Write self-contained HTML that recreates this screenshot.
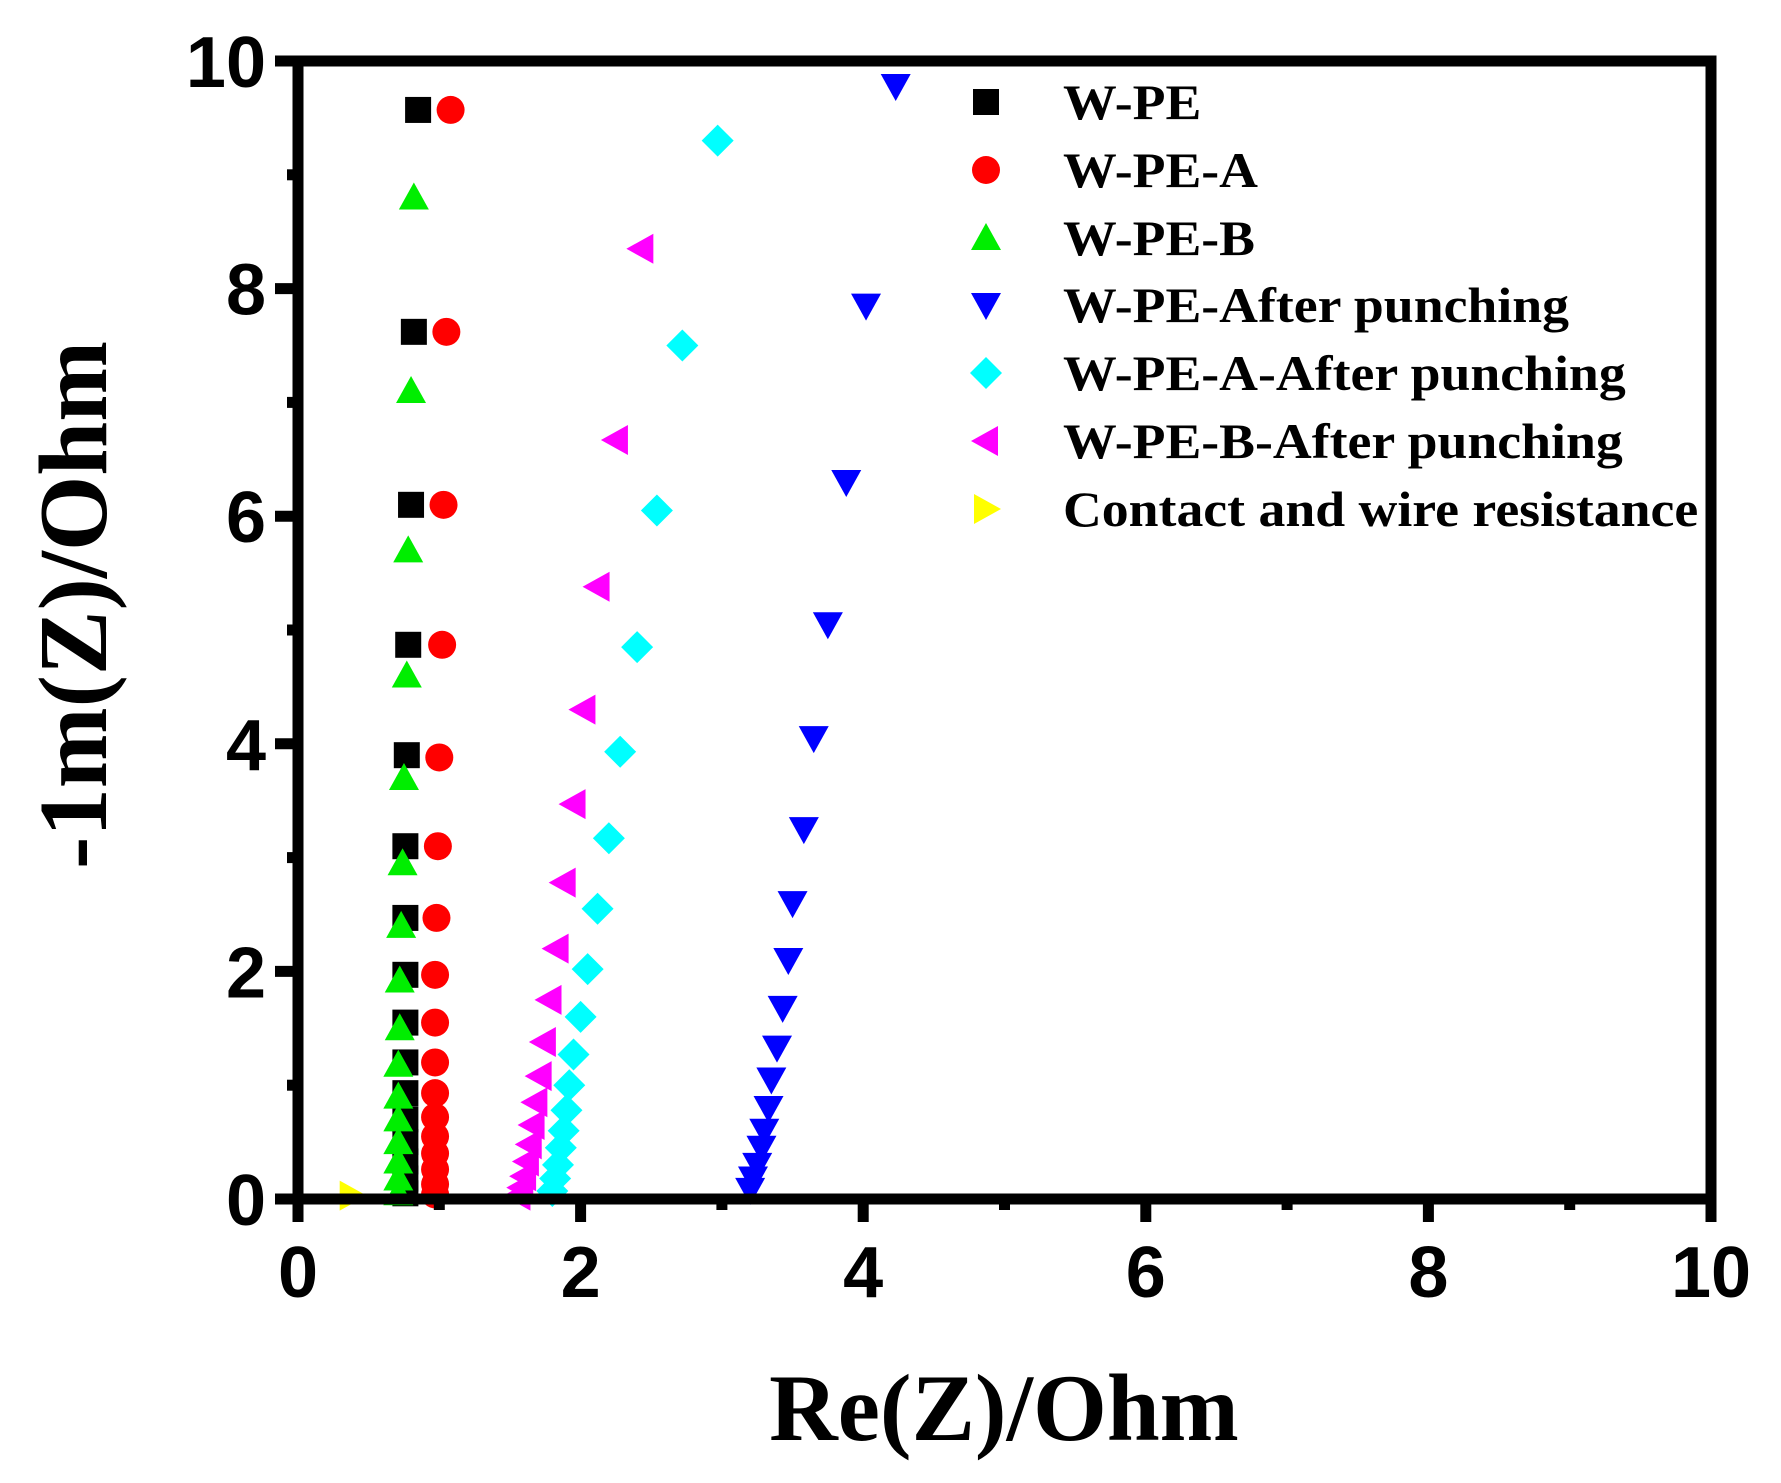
<!DOCTYPE html>
<html><head><meta charset="utf-8"><style>
html,body{margin:0;padding:0;background:#fff;}
svg{display:block;}
</style></head><body>
<svg id="s" width="1781" height="1483" viewBox="0 0 1781 1483" xmlns="http://www.w3.org/2000/svg">
<defs>
<rect id="sq" x="-13" y="-13" width="26" height="26" fill="#000"/>
<circle id="ci" r="14" fill="#ff0000"/>
<polygon id="tu" points="0,-15 15,12 -15,12" fill="#00ee00"/>
<polygon id="td" points="0,15 15,-12 -15,-12" fill="#0000ff"/>
<polygon id="di" points="0,-16 16,0 0,16 -16,0" fill="#00ffff"/>
<polygon id="tl" points="-15,0 12,-15 12,15" fill="#ff00ff"/>
<polygon id="tr" points="15,0 -12,-15 -12,15" fill="#ffff00"/>
</defs>
<g id="pts"></g>
<g stroke="#000" stroke-width="11" fill="none">
<rect x="298" y="61" width="1413" height="1138"/>
</g>
<g id="ticks" stroke="#000" stroke-width="11"></g>
<g font-family="Liberation Sans, Arial, sans-serif" font-weight="bold" font-size="72" fill="#000" id="lbl"></g>
<g transform="translate(1063,0) scale(1.075,1)" font-family="Liberation Serif, Times New Roman, serif" font-weight="bold" font-size="50" fill="#000">
<text x="0" y="119">W-PE</text>
<text x="0" y="187">W-PE-A</text>
<text x="0" y="255">W-PE-B</text>
<text x="0" y="322">W-PE-After punching</text>
<text x="0" y="390">W-PE-A-After punching</text>
<text x="0" y="458">W-PE-B-After punching</text>
<text x="0" y="526">Contact and wire resistance</text>
</g>
<use href="#sq" x="986" y="102"/>
<use href="#ci" x="986" y="170"/>
<use href="#tu" x="986" y="238"/>
<use href="#td" x="986" y="305"/>
<use href="#di" x="986" y="373"/>
<use href="#tl" x="986" y="441"/>
<use href="#tr" x="986" y="509"/>
<text x="1004" y="1440" text-anchor="middle" font-family="Liberation Serif, Times New Roman, serif" font-weight="bold" font-size="95">Re(Z)/Ohm</text>
<text transform="translate(106,605) rotate(-90)" text-anchor="middle" font-family="Liberation Serif, Times New Roman, serif" font-weight="bold" font-size="97">-1m(Z)/Ohm</text>
</svg>
<script>
var NS="http://www.w3.org/2000/svg";
function X(v){return 298+v*141.3;}
function Y(v){return 1199-v*113.8;}
var series={
 sq:[[0.85,9.57],[0.82,7.62],[0.8,6.1],[0.78,4.87],[0.77,3.9],[0.76,3.1],[0.76,2.47],[0.76,1.97],[0.76,1.55],[0.76,1.2],[0.76,0.93],[0.76,0.7],[0.76,0.5],[0.76,0.33],[0.76,0.18],[0.76,0.05]],
 tu:[[0.82,8.8],[0.8,7.1],[0.78,5.7],[0.77,4.6],[0.75,3.7],[0.74,2.95],[0.73,2.4],[0.72,1.92],[0.72,1.5],[0.71,1.18],[0.71,0.9],[0.71,0.7],[0.71,0.5],[0.71,0.33],[0.71,0.18],[0.71,0.05]],
 ci:[[1.08,9.57],[1.05,7.62],[1.03,6.1],[1.02,4.87],[1.0,3.88],[0.99,3.1],[0.98,2.47],[0.97,1.97],[0.97,1.55],[0.97,1.2],[0.97,0.93],[0.97,0.72],[0.97,0.55],[0.97,0.4],[0.97,0.26],[0.97,0.13],[0.97,0.04]],
 td:[[4.23,9.78],[4.02,7.85],[3.88,6.3],[3.75,5.05],[3.65,4.05],[3.58,3.25],[3.5,2.6],[3.47,2.1],[3.43,1.68],[3.39,1.33],[3.35,1.05],[3.33,0.8],[3.3,0.6],[3.28,0.45],[3.25,0.3],[3.22,0.18],[3.2,0.08]],
 di:[[2.97,9.3],[2.72,7.5],[2.54,6.05],[2.4,4.85],[2.28,3.93],[2.2,3.17],[2.12,2.55],[2.05,2.02],[2.0,1.6],[1.95,1.27],[1.92,1.0],[1.9,0.78],[1.88,0.6],[1.86,0.45],[1.84,0.3],[1.82,0.18],[1.8,0.07]],
 tl:[[2.43,8.35],[2.25,6.67],[2.12,5.38],[2.02,4.3],[1.95,3.47],[1.88,2.78],[1.83,2.2],[1.78,1.75],[1.74,1.38],[1.71,1.08],[1.68,0.85],[1.66,0.65],[1.64,0.48],[1.62,0.33],[1.6,0.2],[1.58,0.1],[1.56,0.03]],
 tr:[[0.38,0.03]]
};
var g=document.getElementById('pts');
["sq","tu","ci","td","di","tl","tr"].forEach(function(k){
 series[k].forEach(function(p){var u=document.createElementNS(NS,'use');u.setAttribute('href','#'+k);u.setAttribute('x',X(p[0]));u.setAttribute('y',Y(p[1]));g.appendChild(u);});
});
var t=document.getElementById('ticks'),l=document.getElementById('lbl');
function line(a,b,c,d){var e=document.createElementNS(NS,'line');e.setAttribute('x1',a);e.setAttribute('y1',b);e.setAttribute('x2',c);e.setAttribute('y2',d);t.appendChild(e);}
function txt(x,y,s,anc){var e=document.createElementNS(NS,'text');e.setAttribute('x',x);e.setAttribute('y',y);e.setAttribute('text-anchor',anc);e.textContent=s;l.appendChild(e);}
for(var v=0;v<=10;v++){
 var maj=v%2==0;
 line(X(v),1199,X(v),1199+(maj?23:11));
 line(298,Y(v),298-(maj?23:11),Y(v));
 if(maj){txt(X(v),1297,String(v),'middle');txt(266,Y(v)+26,String(v),'end');}
}
</script>
</body></html>
